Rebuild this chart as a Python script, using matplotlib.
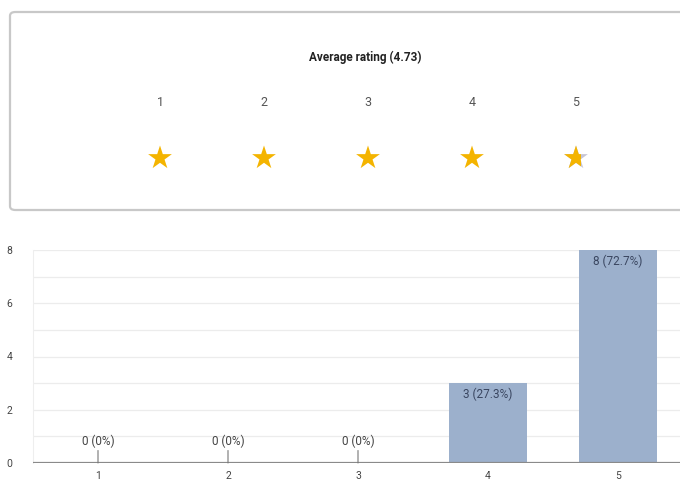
import matplotlib
matplotlib.use("Agg")
import matplotlib.pyplot as plt
from matplotlib.patches import FancyBboxPatch, Rectangle
import numpy as np

plt.rcParams['font.family'] = ['Roboto', 'DejaVu Sans']

# ---- data ----
categories = ["1", "2", "3", "4", "5"]
counts = [0, 0, 0, 3, 8]
average_rating = 4.73
yticks = [0, 2, 4, 6, 8]

total = sum(counts)
labels = []
for c in counts:
    p = 100.0 * c / total
    labels.append(f"{c} ({p:.0f}%)" if c == 0 else f"{c} ({p:.1f}%)")

W, H = 680, 484
fig = plt.figure(figsize=(W / 100, H / 100), dpi=100)
fig.patch.set_facecolor("white")

# ---- top rating panel ----
box = FancyBboxPatch((10 / W, 1 - 210 / H), 690 / W, 198 / H,
                     boxstyle="round,pad=0,rounding_size=0.008",
                     transform=fig.transFigure, facecolor="white",
                     edgecolor="#c8c8c8", linewidth=1.6, zorder=-1)
fig.patches.append(box)

axt = fig.add_axes([0, 1 - 210 / H, 1, 198 / H])
axt.set_axis_off()
px_per_unit = 104.0
x0 = 1 - 160 / px_per_unit
axt.set_xlim(x0, x0 + W / px_per_unit)
axt.set_ylim(210, 12)

xs = np.arange(1, len(categories) + 1)
axt.text(3.0 - 3 / px_per_unit, 57, f"Average rating ({average_rating:.2f})",
         ha="center", va="center", fontsize=8.5, fontweight="bold", color="#222222")
for x, c in zip(xs, categories):
    axt.text(x, 103, c, ha="center", va="center", fontsize=9, color="#555555")

gold = "#F4B400"
ms = 18
area = ms ** 2
for x in xs:
    frac = min(max(average_rating - (x - 1), 0), 1)
    if frac >= 1:
        axt.scatter([x], [158], marker="*", s=area, color=gold, edgecolors="none")
    else:
        axt.scatter([x], [158], marker="*", s=area, color="#c6c5d6", edgecolors="none")
        half_w = 0.4755 * ms * 100 / 72 / px_per_unit
        clip = Rectangle((x - half_w, 120), 2 * half_w * frac, 80,
                         transform=axt.transData, fill=False, visible=False)
        axt.add_patch(clip)
        sc = axt.scatter([x], [158], marker="*", s=area, color=gold, edgecolors="none")
        sc.set_clip_path(clip)

# ---- bar chart ----
ax = fig.add_axes([33 / W, 21 / H, 650 / W, 213 / H])
ax.set_xlim(0.5, 5.5)
ax.set_ylim(0, 8)
bar_color = "#9cb0cc"
ax.bar(xs, counts, width=0.6, color=bar_color, zorder=2)

for y in range(0, 9):
    ax.axhline(y, color="#ececec", lw=0.9, zorder=0)
ax.axhline(0, color="#8a8a8a", lw=1.6, zorder=3)

ax.set_yticks(yticks)
ax.set_xticks(xs)
ax.set_xticklabels(categories)
ax.tick_params(axis="y", length=0, pad=15, labelsize=7.5, labelcolor="#444444")
ax.tick_params(axis="x", length=0, pad=6, labelsize=7.5, labelcolor="#444444")
for s in ["top", "right", "bottom"]:
    ax.spines[s].set_visible(False)
ax.spines["left"].set_color("#eeeeee")
ax.spines["left"].set_linewidth(0.8)

for x, c, lab in zip(xs, counts, labels):
    if c == 0:
        ax.annotate(lab, xy=(x, 0), xytext=(0, 11), textcoords="offset points",
                    ha="center", va="bottom", fontsize=8.5, color="#444444",
                    arrowprops=dict(arrowstyle="-", color="#777777", lw=0.8,
                                    shrinkA=0, shrinkB=0), zorder=4)
    else:
        ax.annotate(lab, xy=(x, c), xytext=(0, -3), textcoords="offset points",
                    ha="center", va="top", fontsize=8.5, color="#3a4660", zorder=4)

fig.savefig("out.png", dpi=100, facecolor="white")
